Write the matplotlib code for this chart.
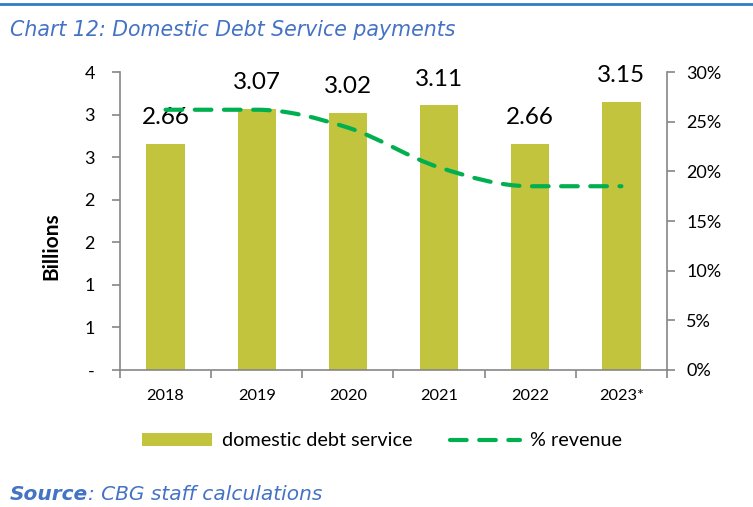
from matplotlib import pyplot as plt
from matplotlib.path import Path
from matplotlib.patches import PathPatch, Patch
from matplotlib.lines import Line2D
from matplotlib.ticker import FuncFormatter, FixedLocator
import numpy as np

years = ["2018", "2019", "2020", "2021", "2022", "2023*"]
debt_service = [2.66, 3.07, 3.02, 3.11, 2.66, 3.15]   # billions
pct_revenue = [26.2, 26.2, 24.4, 20.4, 18.5, 18.5]    # % of revenue

bar_color = "#C3C43D"
line_color = "#00B050"
axis_grey = "#868686"
title_blue = "#4472C4"

plt.rcParams['font.family'] = ['Lato', 'DejaVu Sans']

fig = plt.figure(figsize=(7.53, 5.07), dpi=100)
ax = fig.add_axes([120 / 753, 137 / 507, 547 / 753, 298 / 507])
ax2 = ax.twinx()

x = np.arange(len(years))
ax.bar(x, debt_service, width=0.42, color=bar_color, zorder=2)
for xi, v in zip(x, debt_service):
    ax.annotate(f"{v:.2f}", (xi, v), xytext=(0, 14), textcoords="offset points",
                ha="center", va="baseline", fontsize=17.5, color="black")

# smoothed % revenue line: cubic bezier, monotone tangents so flat runs stay flat
pts = np.column_stack([x, pct_revenue]).astype(float)
slopes = np.diff(pts[:, 1])
tang = np.zeros(len(pts))
tang[0], tang[-1] = slopes[0], slopes[-1]
for i in range(1, len(pts) - 1):
    if slopes[i - 1] * slopes[i] > 0:
        tang[i] = (slopes[i - 1] + slopes[i]) / 2
verts = [pts[0]]
codes = [Path.MOVETO]
for i in range(len(pts) - 1):
    p1, p2 = pts[i], pts[i + 1]
    verts += [p1 + np.array([1 / 3, tang[i] / 3]),
              p2 - np.array([1 / 3, tang[i + 1] / 3]), p2]
    codes += [Path.CURVE4] * 3
ax2.add_patch(PathPatch(Path(verts, codes), fill=False, edgecolor=line_color,
                        linewidth=3, linestyle=(0, (4, 3)), capstyle="round",
                        zorder=3))

ax.set_xlim(-0.5, len(years) - 0.5)
ax.set_ylim(0, 3.5)
ax2.set_ylim(0, 30)

ax.set_yticks(np.arange(0, 3.51, 0.5))
ax.yaxis.set_major_formatter(FuncFormatter(lambda v, p: "-" if v == 0 else str(int(v + 0.5))))
ax2.set_yticks(np.arange(0, 31, 5))
ax2.yaxis.set_major_formatter(FuncFormatter(lambda v, p: f"{v:.0f}%"))

ax.set_xticks(x)
ax.set_xticklabels(years)
ax.xaxis.set_minor_locator(FixedLocator(np.arange(-0.5, len(years), 1.0)))
ax.tick_params(axis="x", which="major", length=0, pad=14, labelsize=11.8)
ax.tick_params(axis="x", which="minor", length=6, width=1.2, color=axis_grey)
ax.tick_params(axis="y", length=6, width=1.2, color=axis_grey, pad=12, labelsize=13)
ax2.tick_params(axis="y", length=6, width=1.2, color=axis_grey, pad=8, labelsize=13)

for a in (ax, ax2):
    for s in a.spines.values():
        s.set_color(axis_grey)
        s.set_linewidth(1.2)
    a.spines["top"].set_visible(False)
ax.spines["right"].set_visible(False)
ax2.spines["left"].set_visible(False)
ax2.spines["bottom"].set_visible(False)

fig.text(51 / 753, 1 - 246 / 507, "Billions", rotation=90, ha="center", va="center",
         fontsize=15, fontweight="bold")

handles = [Patch(facecolor=bar_color, edgecolor="none"),
           Line2D([0], [0], color=line_color, lw=3, linestyle=(0, (4, 3)),
                  dash_capstyle="round")]
fig.legend(handles, ["domestic debt service", "% revenue"], loc="center",
           bbox_to_anchor=(382 / 753, 1 - 441 / 507), ncol=2, frameon=False,
           fontsize=14.3, handlelength=3.5, handleheight=0.65, handletextpad=0.5,
           columnspacing=1.9)

# blue rule across the top, chart title and source note
fig.add_artist(Line2D([0, 1], [1 - 4 / 507, 1 - 4 / 507], color="#2F7BC8", lw=2))
fig.text(10 / 753, 1 - 30 / 507, "Chart 12: Domestic Debt Service payments",
         fontsize=14.8, style="italic", color=title_blue, va="center",
         family="DejaVu Sans")
src = fig.text(10 / 753, 1 - 494 / 507, "Source", fontsize=14.5, style="italic",
               fontweight="bold", color=title_blue, va="center", family="DejaVu Sans")
ax.annotate(": CBG staff calculations", xy=(1, 0.5), xycoords=src, va="center",
            fontsize=14.5, style="italic", color=title_blue, family="DejaVu Sans",
            annotation_clip=False)

fig.savefig("out.png", dpi=100)
